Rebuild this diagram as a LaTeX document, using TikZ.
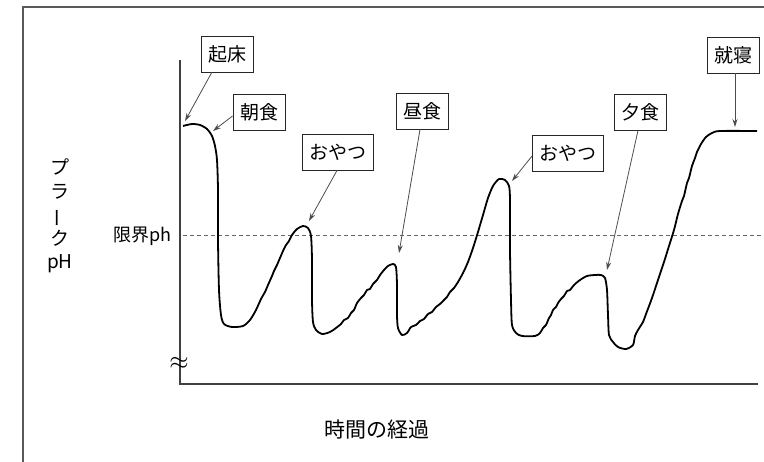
\documentclass[tikz,border=0pt]{standalone}
\usepackage{fontspec}
\newfontfamily\jp{Noto Sans CJK JP}
\usetikzlibrary{arrows.meta}
\tikzset{
  lbl/.style={draw=black!85, line width=0.9pt, fill=white, font=\jp\fontsize{19}{19}\selectfont, inner xsep=7pt, minimum height=36pt, anchor=center},
  ptr/.style={draw=black!70, line width=0.8pt, -{Stealth[length=8pt,width=5pt]}},
  axis/.style={draw=black!75, line width=1.1pt},
  frame/.style={draw=black!65, line width=1.4pt},
  curve/.style={draw=black, line width=1.8pt, line join=round},
}
\begin{document}
\begin{tikzpicture}[x=1pt,y=-1pt]
\useasboundingbox (0,0) rectangle (764,462);
% outer frame
\draw[frame] (23,462) -- (23,7) -- (764,7);
% axes
\coordinate (ytop) at (180,60);
\coordinate (orig) at (180,384);
\coordinate (xend) at (758,384);
\draw[axis] (ytop) -- (orig) -- (xend);
\node[font=\fontsize{24}{24}\selectfont, inner sep=0pt] (brk) at (179,363) {$\approx$};
% threshold
\coordinate (th0) at (183,235);
\coordinate (th1) at (764,235);
\draw[draw=black!60, line width=0.8pt, dash pattern=on 4pt off 3pt] (th0) -- (th1);
\node[font=\jp\fontsize{18}{18}\selectfont, anchor=east, inner sep=0pt] (lim) at (172,236) {限界ph};
% y label
\node[font=\jp\fontsize{19}{23.5}\selectfont, align=center, inner sep=0pt, anchor=north] (ylab) at (60,159) {プ\\ラ\\\rotatebox[origin=c]{90}{ー}\\ク\\pH};
% x label
\node[font=\jp\fontsize{21}{21}\selectfont, inner sep=0pt] (xlab) at (377,430) {時間の経過};
% curve
\draw[curve] plot[smooth, tension=0.45] coordinates {
(183,126) (192,124) (200,125) (207,129) (212,136) (215,146) (217,160) (218,190) (218,240) (219,290) (221,315) (224,324) (232,327) (243,326) (250,320) (256,310) (261,299) (265,292) (268,285) (272,276) (274,271) (277,265) (280,258) (283,251) (286,245) (289,241) (292,235) (297,229) (303,226) (308,228) (311,236) (312,260) (312,300) (313,322) (316,330) (322,334) (330,332) (336,328) (341,324) (344,320) (348,318) (351,313) (354,310) (357,303) (361,298) (364,295) (367,290) (370,289) (373,284) (377,280) (380,275) (384,270) (388,266) (393,264) (396,267) (397,285) (397,315) (398,328) (402,335) (407,333) (411,327) (416,325) (420,321) (424,319) (428,314) (432,312) (436,307) (440,304) (444,300) (447,297) (450,292) (454,288) (458,282) (463,273) (468,262) (473,248) (478,232) (483,215) (488,198) (493,186) (499,179) (505,180) (509,186) (510,200) (510,250) (511,300) (512,325) (516,333) (522,336) (535,336) (540,333) (543,328) (546,325) (549,318) (551,315) (553,310) (556,307) (558,303) (561,299) (564,296) (567,291) (570,290) (574,285) (580,280) (587,276) (595,275) (601,275) (605,278) (607,290) (608,315) (609,335) (613,342) (618,347) (626,349) (633,345) (635,336) (638,330) (643,322) (646,314) (652,298) (658,280) (664,262) (669,246) (674,230) (678,214) (682,201) (684,196) (687,183) (689,178) (692,166) (695,158) (697,152) (701,144) (706,137) (712,133) (720,131) (757,131)
};
% labels
\node[lbl] (kisho) at (227,54) {起床};
\node[lbl] (asa) at (259,112) {朝食};
\node[lbl] (oya1) at (338,152) {おやつ};
\node[lbl] (hiru) at (422,111) {昼食};
\node[lbl] (oya2) at (568,153) {おやつ};
\node[lbl] (yu) at (640,112) {夕食};
\node[lbl] (shu) at (733,55) {就寝};
% targets
\coordinate (tkisho) at (185,121);
\coordinate (tasa) at (213,131);
\coordinate (toya1) at (309,221);
\coordinate (thiru) at (399,253);
\coordinate (toya2) at (512,181);
\coordinate (tyu) at (607,270);
\coordinate (tshu) at (735,127);
\draw[ptr] (212,72) coordinate (skisho) -- (tkisho);
\draw[ptr] (asa.west |- 0,116) coordinate (sasa) -- (tasa);
\draw[ptr] (oya1.south) ++(-1,0) coordinate (soya1) -- (toya1);
\draw[ptr] (hiru.south) ++(-2,0) coordinate (shiru) -- (thiru);
\draw[ptr] (oya2.west |- 0,156) coordinate (soya2) -- (toya2);
\draw[ptr] (yu.south) ++(-2,0) coordinate (syu) -- (tyu);
\draw[ptr] (shu.south) ++(2,0) coordinate (sshu) -- (tshu);
\end{tikzpicture}
\end{document}
